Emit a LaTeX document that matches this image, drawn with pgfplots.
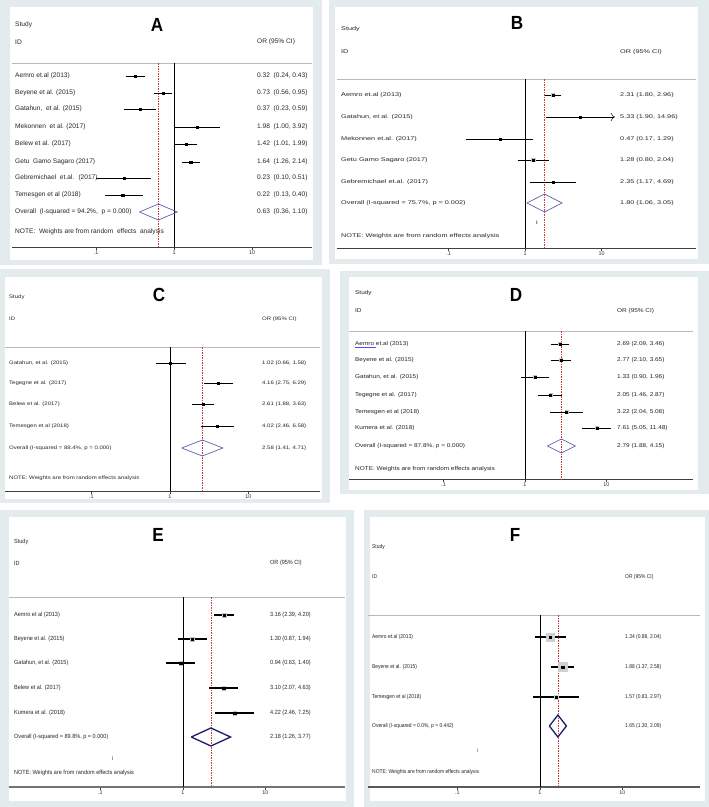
\documentclass[border=0pt]{standalone}
\usepackage{pgfplots}
\pgfplotsset{compat=1.18}
\usetikzlibrary{arrows.meta}
\usepackage{fontspec}
\setmainfont{Liberation Sans}
\newfontfamily\fA{Liberation Sans}
\newfontfamily\fB[FakeStretch=1.35]{Liberation Sans}
\newfontfamily\fC[FakeStretch=1.2]{Liberation Sans}
\newfontfamily\fD[FakeStretch=1.15]{Liberation Sans}
\newfontfamily\fE[FakeStretch=0.92]{Liberation Sans}
\newfontfamily\fF[FakeStretch=0.88]{Liberation Sans}
\newfontfamily\fT[FakeStretch=0.9]{Liberation Sans}
\definecolor{panelbg}{HTML}{E3EBED}
\definecolor{diam}{HTML}{6060B0}
\definecolor{navy}{HTML}{1C1C6E}
\definecolor{refred}{HTML}{C43C3C}
\definecolor{hdr}{HTML}{B8B8B8}
\definecolor{wbox}{HTML}{C4C4C4}

\pgfplotsset{
  every axis/.append style={
    scale only axis, axis x line*=bottom, axis y line=none,
    xtick={0.1,1,10}, xticklabels={.1,1,10}, xminorticks=false,
    tick align=outside, major tick length=3pt,
    tick style={black!75, line width=0.5pt},
    xticklabel style={font=\fontsize{5.4}{6}\selectfont, inner sep=1pt, text=black!80},
    clip=false,
  },
  fpci/.style={black, line width=0.6pt, unbounded coords=jump, forget plot},
  fpdot/.style={only marks, mark=square*, mark size=1.1pt, black, forget plot},
  fpnull/.style={black, line width=0.6pt, forget plot},
  fpref/.style={refred, line width=0.5pt, dash pattern=on 1.5pt off 1pt, forget plot},
  fphdr/.style={hdr, line width=0.5pt, forget plot},
}
\tikzset{
  lA/.style={anchor=west, inner sep=0pt, font=\fA\fontsize{6.6}{7}\selectfont, text=black!85},
  lB/.style={anchor=west, inner sep=0pt, font=\fB\fontsize{5.4}{6}\selectfont, text=black!85},
  lC/.style={anchor=west, inner sep=0pt, font=\fC\fontsize{5.0}{6}\selectfont, text=black!85},
  lD/.style={anchor=west, inner sep=0pt, font=\fD\fontsize{5.6}{6}\selectfont, text=black!85},
  lE/.style={anchor=west, inner sep=0pt, font=\fE\fontsize{6.0}{7}\selectfont, text=black!85},
  lF/.style={anchor=west, inner sep=0pt, font=\fF\fontsize{5.6}{6}\selectfont, text=black!85},
  ttl/.style={anchor=center, inner sep=0pt, font=\fT\bfseries\fontsize{19}{20}\selectfont},
}

\begin{document}
\begin{tikzpicture}[x=1pt,y=1pt]
% page and panel frames
\fill[white] (0pt,0pt) rectangle (709pt,-807pt);
\fill[panelbg] (0pt,0pt) rectangle (322pt,-265pt);
\fill[white] (10pt,-7pt) rectangle (313pt,-260pt);
\fill[panelbg] (329pt,0pt) rectangle (709pt,-264pt);
\fill[white] (335pt,-7pt) rectangle (698pt,-259pt);
\fill[panelbg] (0pt,-269pt) rectangle (330pt,-503pt);
\fill[white] (5pt,-277pt) rectangle (322pt,-499pt);
\fill[panelbg] (340pt,-271pt) rectangle (709pt,-494pt);
\fill[white] (349pt,-277pt) rectangle (698pt,-490pt);
\fill[panelbg] (0pt,-510pt) rectangle (354pt,-807pt);
\fill[white] (9pt,-517pt) rectangle (346pt,-801pt);
\fill[panelbg] (364pt,-510pt) rectangle (709pt,-807pt);
\fill[white] (370pt,-517pt) rectangle (705pt,-801pt);

% ================= Panel A =================
\begin{axis}[xmode=log, anchor=south west, at={(12pt,-247pt)}, width=300pt, height=184pt,
  xmin=0.008377, xmax=58.75, ymin=-247, ymax=-63,
  axis line style={draw=black!75, line width=0.7pt, -}]
\addplot[fphdr] coordinates {(0.008377,-63) (58.75,-63)};
\addplot[fpnull] coordinates {(1,-63) (1,-247)};
\addplot[fpref] coordinates {(0.63,-63) (0.63,-247)};
\addplot[fpci] coordinates {(0.24,-76) (0.43,-76) (nan,nan) (0.56,-93) (0.95,-93) (nan,nan)
  (0.23,-109) (0.59,-109) (nan,nan) (1.00,-127) (3.92,-127) (nan,nan)
  (1.01,-144) (1.99,-144) (nan,nan) (1.26,-162) (2.14,-162) (nan,nan)
  (0.10,-178) (0.51,-178) (nan,nan) (0.13,-195) (0.40,-195)};
\addplot[fpdot] coordinates {(0.32,-76) (0.73,-93) (0.37,-109) (1.98,-127) (1.42,-144) (1.64,-162) (0.23,-178) (0.22,-195)};
\addplot[diam, line width=0.7pt, line join=miter, forget plot] coordinates {(0.36,-212) (0.63,-204) (1.10,-212) (0.63,-220) (0.36,-212)};
\end{axis}
\node[ttl] at (157pt,-25pt) {A};
\node[lA] at (15pt,-25pt) {Study};
\node[lA] at (15pt,-42pt) {ID};
\node[lA] at (257pt,-42pt) {OR (95\% CI)};
\node[lA] at (15pt,-76pt) {Aemro et.al (2013)};
\node[lA] at (15pt,-93pt) {Beyene et al. (2015)};
\node[lA] at (15pt,-109pt) {Gatahun, \ et al. (2015)};
\node[lA] at (15pt,-127pt) {Mekonnen \ et al. (2017)};
\node[lA] at (15pt,-144pt) {Belew et al. (2017)};
\node[lA] at (15pt,-162pt) {Getu \ Gamo Sagaro (2017)};
\node[lA] at (15pt,-178pt) {Gebremichael \ et.al. \ (2017)};
\node[lA] at (15pt,-195pt) {Temesgen et al (2018)};
\node[lA] at (15pt,-212pt) {Overall \ (I-squared = 94.2\%, \ p = 0.000)};
\node[lA] at (15pt,-232pt) {NOTE: \ Weights are from random \ effects \ analysis};
\node[lA] at (257pt,-76pt) {0.32 \ (0.24, 0.43)};
\node[lA] at (257pt,-93pt) {0.73 \ (0.56, 0.95)};
\node[lA] at (257pt,-109pt) {0.37 \ (0.23, 0.59)};
\node[lA] at (257pt,-127pt) {1.98 \ (1.00, 3.92)};
\node[lA] at (257pt,-144pt) {1.42 \ (1.01, 1.99)};
\node[lA] at (257pt,-162pt) {1.64 \ (1.26, 2.14)};
\node[lA] at (257pt,-178pt) {0.23 \ (0.10, 0.51)};
\node[lA] at (257pt,-195pt) {0.22 \ (0.13, 0.40)};
\node[lA] at (257pt,-212pt) {0.63 \ (0.36, 1.10)};

% ================= Panel B =================
\begin{axis}[xmode=log, anchor=south west, at={(337pt,-248pt)}, width=359pt, height=169pt,
  xmin=0.003487, xmax=171.9, ymin=-248, ymax=-79,
  axis line style={draw=black!75, line width=0.7pt, -}]
\addplot[fphdr] coordinates {(0.003487,-79) (171.9,-79)};
\addplot[fpnull] coordinates {(1,-79) (1,-248)};
\addplot[fpref] coordinates {(1.80,-79) (1.80,-248)};
\addplot[fpci, line width=0.5pt] coordinates {(1.80,-95) (2.96,-95) (nan,nan)
  (0.17,-139) (1.29,-139) (nan,nan) (0.80,-160) (2.04,-160) (nan,nan) (1.17,-182) (4.69,-182)};
\addplot[black, line width=0.5pt, -{To[length=4pt,width=8pt]}, forget plot] coordinates {(1.90,-117) (14.96,-117)};
\addplot[only marks, mark=square*, mark size=1.6pt, wbox, forget plot] coordinates {(2.31,-95) (1.28,-160)};
\addplot[fpdot, mark size=1.0pt] coordinates {(2.31,-95) (5.33,-117) (0.47,-139) (1.28,-160) (2.35,-182)};
\addplot[diam, line width=0.7pt, line join=miter, forget plot] coordinates {(1.06,-203) (1.80,-194) (3.05,-203) (1.80,-212) (1.06,-203)};
\end{axis}
\node[ttl] at (517pt,-23pt) {B};
\node[lB] at (341pt,-29pt) {Study};
\node[lB] at (341pt,-52pt) {ID};
\node[lB] at (620pt,-52pt) {OR (95\% CI)};
\node[lB] at (341pt,-95pt) {Aemro et.al (2013)};
\node[lB] at (341pt,-117pt) {Gatahun, et al. (2015)};
\node[lB] at (341pt,-139pt) {Mekonnen et.al. (2017)};
\node[lB] at (341pt,-160pt) {Getu Gamo Sagaro (2017)};
\node[lB] at (341pt,-182pt) {Gebremichael et.al. (2017)};
\node[lB] at (341pt,-203pt) {Overall (I-squared = 75.7\%, p = 0.002)};
\node[lB] at (341pt,-236pt) {NOTE: Weights are from random effects analysis};
\node[lB] at (536pt,-223pt) {i};
\node[lB] at (620pt,-95pt) {2.31 (1.80, 2.96)};
\node[lB] at (620pt,-117pt) {5.33 (1.90, 14.96)};
\node[lB] at (620pt,-139pt) {0.47 (0.17, 1.29)};
\node[lB] at (620pt,-160pt) {1.28 (0.80, 2.04)};
\node[lB] at (620pt,-182pt) {2.35 (1.17, 4.69)};
\node[lB] at (620pt,-203pt) {1.80 (1.06, 3.05)};

% ================= Panel C =================
\begin{axis}[xmode=log, anchor=south west, at={(5pt,-491pt)}, width=315pt, height=144pt,
  xmin=0.007909, xmax=81.44, ymin=-491, ymax=-347,
  axis line style={draw=black!75, line width=0.7pt, -}]
\addplot[fphdr] coordinates {(0.007909,-347) (81.44,-347)};
\addplot[fpnull] coordinates {(1,-347) (1,-491)};
\addplot[fpref] coordinates {(2.58,-347) (2.58,-491)};
\addplot[fpci, line width=0.5pt] coordinates {(0.66,-363) (1.58,-363) (nan,nan) (2.75,-383) (6.29,-383) (nan,nan)
  (1.88,-404) (3.63,-404) (nan,nan) (2.46,-426) (6.58,-426)};
\addplot[fpdot, mark size=1.0pt] coordinates {(1.02,-363) (4.16,-383) (2.61,-404) (4.02,-426)};
\addplot[diam, line width=0.7pt, line join=miter, forget plot] coordinates {(1.41,-448) (2.58,-440) (4.71,-448) (2.58,-456) (1.41,-448)};
\end{axis}
\node[ttl] at (159pt,-295pt) {C};
\node[lC] at (9pt,-297pt) {Study};
\node[lC] at (9pt,-319pt) {ID};
\node[lC] at (262pt,-319pt) {OR (95\% CI)};
\node[lC] at (9pt,-363pt) {Gatahun, et al. (2015)};
\node[lC] at (9pt,-383pt) {Tegegne et al. (2017)};
\node[lC] at (9pt,-404pt) {Belew et al. (2017)};
\node[lC] at (9pt,-426pt) {Temesgen et al (2018)};
\node[lC] at (9pt,-448pt) {Overall (I-squared = 88.4\%, p = 0.000)};
\node[lC] at (9pt,-478pt) {NOTE: Weights are from random effects analysis};
\node[lC] at (262pt,-363pt) {1.02 (0.66, 1.58)};
\node[lC] at (262pt,-383pt) {4.16 (2.75, 6.29)};
\node[lC] at (262pt,-404pt) {2.61 (1.88, 3.63)};
\node[lC] at (262pt,-426pt) {4.02 (2.46, 6.58)};
\node[lC] at (262pt,-448pt) {2.58 (1.41, 4.71)};

% ================= Panel D =================
\begin{axis}[xmode=log, anchor=south west, at={(349pt,-479pt)}, width=344pt, height=148pt,
  xmin=0.006926, xmax=115.2, ymin=-479, ymax=-331,
  axis line style={draw=black!75, line width=0.7pt, -}]
\addplot[fphdr] coordinates {(0.006926,-331) (115.2,-331)};
\addplot[fpnull] coordinates {(1,-331) (1,-479)};
\addplot[fpref] coordinates {(2.79,-331) (2.79,-479)};
\addplot[fpci, line width=0.5pt] coordinates {(2.09,-344) (3.46,-344) (nan,nan) (2.10,-360) (3.65,-360) (nan,nan)
  (0.90,-377) (1.96,-377) (nan,nan) (1.46,-395) (2.87,-395) (nan,nan)
  (2.04,-412) (5.08,-412) (nan,nan) (5.05,-428) (11.48,-428)};
\addplot[only marks, mark=square*, mark size=1.5pt, wbox, forget plot] coordinates {(2.69,-344) (2.77,-360) (1.33,-377) (2.05,-395) (3.22,-412) (7.61,-428)};
\addplot[fpdot, mark size=0.9pt] coordinates {(2.69,-344) (2.77,-360) (1.33,-377) (2.05,-395) (3.22,-412) (7.61,-428)};
\addplot[diam, line width=0.7pt, line join=miter, forget plot] coordinates {(1.88,-446) (2.79,-439) (4.15,-446) (2.79,-453) (1.88,-446)};
\end{axis}
\node[ttl] at (516pt,-295pt) {D};
\node[lD] at (355pt,-293pt) {Study};
\node[lD] at (355pt,-311pt) {ID};
\node[lD] at (617pt,-311pt) {OR (95\% CI)};
\node[lD] at (355pt,-344pt) {Aemro et.al (2013)};
\draw[blue!70, line width=0.4pt] (355pt,-347.5pt) -- (376pt,-347.5pt);
\node[lD] at (355pt,-360pt) {Beyene et al. (2015)};
\node[lD] at (355pt,-377pt) {Gatahun, et al. (2015)};
\node[lD] at (355pt,-395pt) {Tegegne et al. (2017)};
\node[lD] at (355pt,-412pt) {Temesgen et al (2018)};
\node[lD] at (355pt,-428pt) {Kumera et al. (2018)};
\node[lD] at (355pt,-446pt) {Overall (I-squared = 87.8\%, p = 0.000)};
\node[lD] at (355pt,-469pt) {NOTE: Weights are from random effects analysis};
\node[lD] at (617pt,-344pt) {2.69 (2.09, 3.46)};
\node[lD] at (617pt,-360pt) {2.77 (2.10, 3.65)};
\node[lD] at (617pt,-377pt) {1.33 (0.90, 1.96)};
\node[lD] at (617pt,-395pt) {2.05 (1.46, 2.87)};
\node[lD] at (617pt,-412pt) {3.22 (2.04, 5.08)};
\node[lD] at (617pt,-428pt) {7.61 (5.05, 11.48)};
\node[lD] at (617pt,-446pt) {2.79 (1.88, 4.15)};

% ================= Panel E =================
\begin{axis}[xmode=log, anchor=south west, at={(9pt,-787pt)}, width=336pt, height=190pt,
  xmin=0.007779, xmax=91.97, ymin=-787, ymax=-597,
  axis line style={draw=black!55, line width=1.4pt, -}]
\addplot[fphdr] coordinates {(0.007779,-597) (91.97,-597)};
\addplot[fpnull] coordinates {(1,-597) (1,-787)};
\addplot[fpref] coordinates {(2.18,-597) (2.18,-787)};
\addplot[fpci, line width=1.2pt] coordinates {(2.39,-615) (4.20,-615) (nan,nan) (0.87,-639) (1.94,-639) (nan,nan)
  (0.63,-663) (1.40,-663) (nan,nan) (2.07,-688) (4.63,-688) (nan,nan) (2.46,-713) (7.25,-713)};
\addplot[only marks, mark=square*, mark size=1.8pt, wbox, forget plot] coordinates {(3.16,-615) (1.30,-639) (0.94,-663) (3.10,-688) (4.22,-713)};
\addplot[fpdot, mark size=1.2pt] coordinates {(3.16,-615) (1.30,-639) (0.94,-663) (3.10,-688) (4.22,-713)};
\addplot[navy, line width=1.3pt, line join=miter, forget plot] coordinates {(1.26,-737) (2.18,-728) (3.77,-737) (2.18,-746) (1.26,-737)};
\end{axis}
\node[ttl] at (158pt,-535pt) {E};
\node[lE] at (14pt,-542pt) {Study};
\node[lE] at (14pt,-563pt) {ID};
\node[lE] at (270pt,-563pt) {OR (95\% CI)};
\node[lE] at (14pt,-615pt) {Aemro et al (2013)};
\node[lE] at (14pt,-639pt) {Beyene et al. (2015)};
\node[lE] at (14pt,-663pt) {Gatahun, et al. (2015)};
\node[lE] at (14pt,-688pt) {Belew et al. (2017)};
\node[lE] at (14pt,-713pt) {Kumera et al. (2018)};
\node[lE] at (14pt,-737pt) {Overall (I-squared = 89.8\%, p = 0.000)};
\node[lE] at (112pt,-758pt) {i};
\node[lE] at (14pt,-773pt) {NOTE: Weights are from random effects analysis};
\node[lE] at (270pt,-615pt) {3.16 (2.39, 4.20)};
\node[lE] at (270pt,-639pt) {1.30 (0.87, 1.94)};
\node[lE] at (270pt,-663pt) {0.94 (0.63, 1.40)};
\node[lE] at (270pt,-688pt) {3.10 (2.07, 4.63)};
\node[lE] at (270pt,-713pt) {4.22 (2.46, 7.25)};
\node[lE] at (270pt,-737pt) {2.18 (1.26, 3.77)};

% ================= Panel F =================
\begin{axis}[xmode=log, anchor=south west, at={(368pt,-787pt)}, width=332pt, height=172pt,
  xmin=0.008226, xmax=86.99, ymin=-787, ymax=-615,
  axis line style={draw=black!65, line width=1.2pt, -}]
\addplot[fphdr] coordinates {(0.008226,-615) (86.99,-615)};
\addplot[fpnull] coordinates {(1,-615) (1,-787)};
\addplot[fpref] coordinates {(1.65,-615) (1.65,-787)};
\addplot[fpci, line width=1.1pt] coordinates {(0.88,-637) (2.04,-637) (nan,nan) (1.37,-667) (2.58,-667) (nan,nan)
  (0.83,-697) (2.97,-697)};
\addplot[only marks, mark=square*, mark size=4pt, wbox!80, forget plot] coordinates {(1.34,-637)};
\addplot[only marks, mark=square*, mark size=4.5pt, wbox!80, forget plot] coordinates {(1.88,-667)};
\addplot[only marks, mark=square*, mark size=1.8pt, wbox!80, forget plot] coordinates {(1.57,-697)};
\addplot[fpdot, mark size=1.1pt] coordinates {(1.34,-637) (1.88,-667) (1.57,-697)};
\addplot[navy, line width=1.3pt, line join=miter, forget plot] coordinates {(1.30,-726) (1.65,-715) (2.09,-726) (1.65,-737) (1.30,-726)};
\end{axis}
\node[ttl] at (515pt,-535pt) {F};
\node[lF] at (372pt,-547pt) {Study};
\node[lF] at (372pt,-577pt) {ID};
\node[lF] at (625pt,-577pt) {OR (95\% CI)};
\node[lF] at (372pt,-637pt) {Aemro et.al (2013)};
\node[lF] at (372pt,-667pt) {Beyene et al. (2015)};
\node[lF] at (372pt,-697pt) {Temesgen et al (2018)};
\node[lF] at (372pt,-726pt) {Overall (I-squared = 0.0\%, p = 0.442)};
\node[lF] at (477pt,-750pt) {i};
\node[lF] at (372pt,-772pt) {NOTE: Weights are from random effects analysis};
\node[lF] at (625pt,-637pt) {1.34 (0.88, 2.04)};
\node[lF] at (625pt,-667pt) {1.88 (1.37, 2.58)};
\node[lF] at (625pt,-697pt) {1.57 (0.83, 2.97)};
\node[lF] at (625pt,-726pt) {1.65 (1.30, 2.09)};
\end{tikzpicture}
\end{document}
